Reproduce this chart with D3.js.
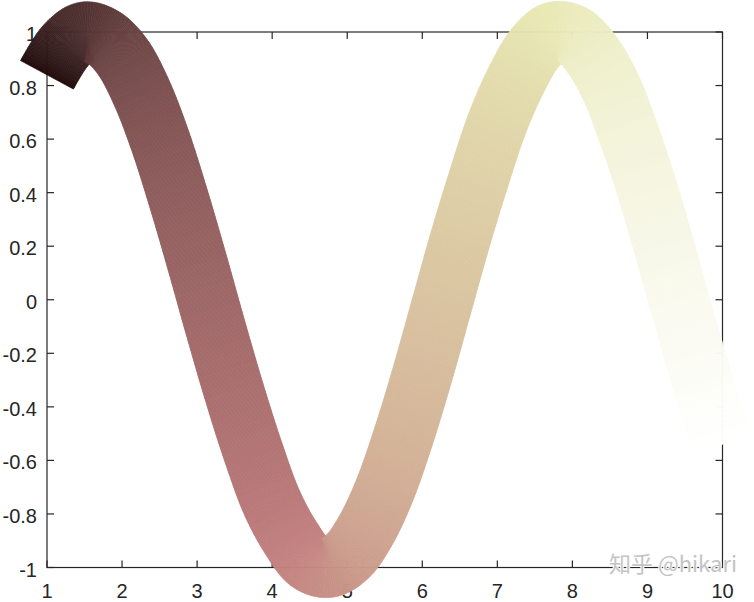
<!DOCTYPE html>
<html><head><meta charset="utf-8">
<script src="https://cdn.jsdelivr.net/npm/d3@7/dist/d3.min.js"></script>
<style>html,body{margin:0;padding:0;background:#fff;}</style>
</head><body>
<svg id="chart" width="754" height="602"></svg>
<script>
// data (y = curve centre at each x)
const xs = [1,1.25,1.5,1.75,2,2.25,2.5,2.75,3,3.25,3.5,3.75,4,4.25,4.5,4.75,5,5.25,5.5,5.75,6,6.25,6.5,6.75,7,7.25,7.5,7.75,8,8.25,8.5,8.75,9,9.25,9.5,9.75,10];
const ys = [0.84,0.95,1.00,0.98,0.91,0.78,0.60,0.38,0.14,-0.11,-0.35,-0.57,-0.76,-0.89,-0.98,-1.00,-0.96,-0.86,-0.71,-0.51,-0.28,-0.03,0.22,0.45,0.66,0.82,0.94,1.00,0.99,0.92,0.80,0.62,0.41,0.17,-0.08,-0.32,-0.54];
const xTicks = [1,2,3,4,5,6,7,8,9,10];
const xTickLabels = ["1","2","3","4","5","6","7","8","9","10"];
const yTicks = [-1,-0.8,-0.6,-0.4,-0.2,0,0.2,0.4,0.6,0.8,1];
const yTickLabels = ["-1","-0.8","-0.6","-0.4","-0.2","0","0.2","0.4","0.6","0.8","1"];

const svg = d3.select("#chart");
const L = 47, R = 722.5, T = 32, B = 567.5;
const x = d3.scaleLinear().domain([1,10]).range([L,R]);
const y = d3.scaleLinear().domain([-1,1]).range([B,T]);
const axisColor = "#262626";
const font = "'Liberation Sans', Arial, Helvetica, sans-serif";

// axes box + ticks
const g = svg.append("g");
g.append("rect").attr("x",L).attr("y",T).attr("width",R-L).attr("height",B-T)
  .attr("fill","none").attr("stroke",axisColor).attr("stroke-width",1.2);
const tl = 7;
xTicks.forEach(v=>{
  const px = x(v);
  g.append("line").attr("x1",px).attr("x2",px).attr("y1",B).attr("y2",B-tl).attr("stroke",axisColor).attr("stroke-width",1.2);
  g.append("line").attr("x1",px).attr("x2",px).attr("y1",T).attr("y2",T+tl).attr("stroke",axisColor).attr("stroke-width",1.2);
});
yTicks.forEach(v=>{
  const py = y(v);
  g.append("line").attr("x1",L).attr("x2",L+tl).attr("y1",py).attr("y2",py).attr("stroke",axisColor).attr("stroke-width",1.2);
  g.append("line").attr("x1",R).attr("x2",R-tl).attr("y1",py).attr("y2",py).attr("stroke",axisColor).attr("stroke-width",1.2);
});
g.selectAll("text.xl").data(xTicks).enter().append("text")
  .attr("x",d=>x(d)).attr("y",B+30).attr("text-anchor","middle")
  .attr("font-family",font).attr("font-size",20).attr("fill",axisColor)
  .text((d,i)=>xTickLabels[i]);
g.selectAll("text.yl").data(yTicks).enter().append("text")
  .attr("x",L-10).attr("y",d=>y(d)+9).attr("text-anchor","end")
  .attr("font-family",font).attr("font-size",20).attr("fill",axisColor)
  .text((d,i)=>yTickLabels[i]);

// MATLAB-like pink colormap
function pink(t){
  const k = t*63+1;
  const cl = v=>Math.max(0,Math.min(1,v));
  const hr = cl(k/24), hg = cl((k-24)/24), hb = cl((k-48)/16);
  const f = h=>Math.round(255*Math.sqrt((2*t+h)/3));
  return `rgb(${f(hr)},${f(hg)},${f(hb)})`;
}

// thick gradient line
const lineGen = d3.line().x(d=>x(d[0])).y(d=>y(d[1])).curve(d3.curveCatmullRom.alpha(0.5));
const pts = xs.map((v,i)=>[v,ys[i]]);
const tmp = svg.append("path").attr("d",lineGen(pts)).attr("fill","none").attr("stroke","none");
const node = tmp.node();
const len = node.getTotalLength();
const N = Math.ceil(len/1.2);
const samp = [];
for(let i=0;i<=N;i++){ const p=node.getPointAtLength(len*i/N); samp.push([p.x,p.y]); }
tmp.remove();
const hw = 30;
const norms = samp.map((p,i)=>{
  const a = samp[Math.max(0,i-1)], b = samp[Math.min(N,i+1)];
  let dx=b[0]-a[0], dy=b[1]-a[1]; const l=Math.hypot(dx,dy)||1;
  return [-dy/l, dx/l];
});
const strip = svg.append("g");
for(let i=0;i<N;i++){
  const p=samp[i], q=samp[i+1], n1=norms[i], n2=norms[i+1];
  const poly = [
    [p[0]+hw*n1[0], p[1]+hw*n1[1]],
    [q[0]+hw*n2[0], q[1]+hw*n2[1]],
    [q[0]-hw*n2[0], q[1]-hw*n2[1]],
    [p[0]-hw*n1[0], p[1]-hw*n1[1]]
  ];
  const t = (x.invert((p[0]+q[0])/2)-1)/9;
  const c = pink(Math.max(0,Math.min(1,t)));
  strip.append("polygon").attr("points",poly.map(d=>d.join(",")).join(" "))
    .attr("fill",c).attr("stroke",c).attr("stroke-width",0.7);
}

// watermark
svg.append("text").attr("x",737).attr("y",572).attr("text-anchor","end")
  .attr("font-family","'Noto Sans CJK SC', 'Liberation Sans', sans-serif").attr("font-size",22)
  .attr("fill","#c4c4c4").attr("stroke","#ffffff").attr("stroke-width",2).attr("paint-order","stroke")
  .text("知乎 @hikari");
</script>
</body></html>
